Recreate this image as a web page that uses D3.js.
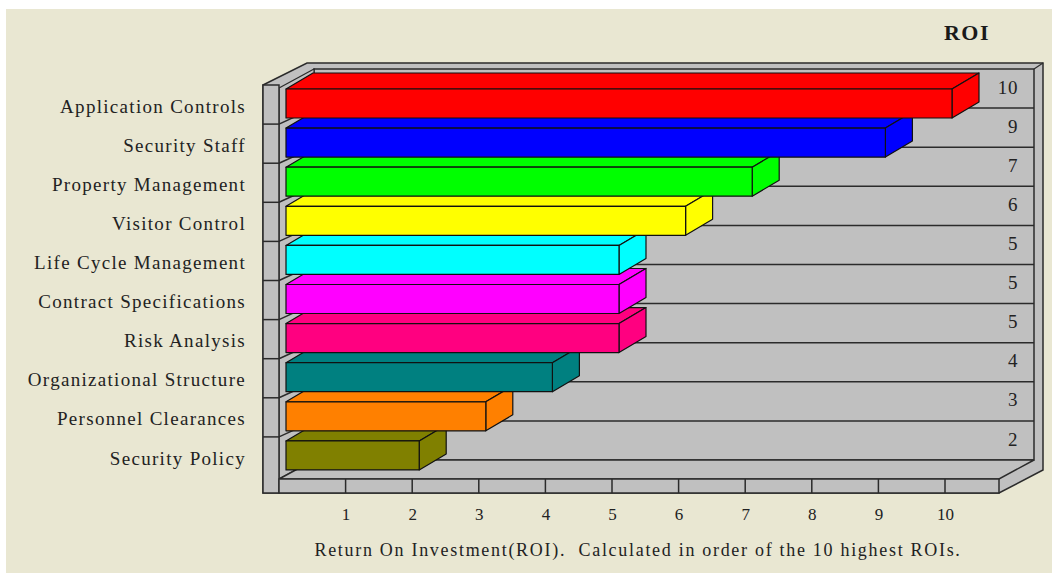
<!DOCTYPE html>
<html>
<head>
<meta charset="utf-8">
<script src="https://cdn.jsdelivr.net/npm/d3@7"></script>
<style>
  html, body { margin: 0; padding: 0; background: #ffffff; }
  svg { display: block; }
  text { font-family: "Liberation Serif", "Times New Roman", serif; fill: #222222; }
</style>
</head>
<body>
<svg id="chart" width="1052" height="576"></svg>
<script>
// Categories, top to bottom, with their return-on-investment scores
const categories = [
  "Application Controls",
  "Security Staff",
  "Property Management",
  "Visitor Control",
  "Life Cycle Management",
  "Contract Specifications",
  "Risk Analysis",
  "Organizational Structure",
  "Personnel Clearances",
  "Security Policy"
];
const roi = [10, 9, 7, 6, 5, 5, 5, 4, 3, 2];
const barColors = [
  "#ff0000", "#0000ff", "#00ff00", "#ffff00", "#00ffff",
  "#ff00ff", "#ff0080", "#008080", "#ff8000", "#808000"
];
const tickValues = [1, 2, 3, 4, 5, 6, 7, 8, 9, 10];
const titleText = "ROI";
const captionText = "Return On Investment(ROI).  Calculated in order of the 10 highest ROIs.";

const svg = d3.select("#chart");
const WALL = "#c0c0c0";
const EDGE = "#2b2b2b";

// Layout of the 3-D box
const frontLeft = 279, frontRight = 999, frontTop = 88, frontBottom = 479;
const wallDx = 35, wallDy = -19;     // depth offset of the walls
const barDx = 27, barDy = -16;       // depth offset of each bar

const x = d3.scaleLinear().domain([0, 10]).range([286, 952]);
const xFloor = d3.scaleLinear().domain([0, 10]).range([279, 945]);
const y = d3.scaleBand().domain(categories).range([frontTop, frontBottom]).padding(0);
const barH = 29;

// Page background
svg.append("rect").attr("x", 6).attr("y", 9).attr("width", 1046).attr("height", 564)
  .attr("fill", "#e9e7d2");

// Outer shell of the box
svg.append("polygon")
  .attr("points", [[263, 85], [307, 63], [1043, 63], [1043, 470], [frontRight, 493], [263, 493]].join(" "))
  .attr("fill", WALL).attr("stroke", EDGE).attr("stroke-width", 1.5);

// Back wall
const backL = frontLeft + wallDx, backT = frontTop + wallDy;
const backR = frontRight + wallDx, backB = frontBottom + wallDy;
svg.append("rect").attr("x", backL).attr("y", backT)
  .attr("width", backR - backL).attr("height", backB - backT)
  .attr("fill", WALL).attr("stroke", EDGE).attr("stroke-width", 1.5);

// Inner face of the left wall
svg.append("polygon")
  .attr("points", [[frontLeft, frontTop], [backL, backT], [backL, backB], [frontLeft, frontBottom]].join(" "))
  .attr("fill", WALL).attr("stroke", EDGE).attr("stroke-width", 1.2);

// Floor
svg.append("polygon")
  .attr("points", [[frontLeft, frontBottom], [backL, backB], [backR, backB], [frontRight, frontBottom]].join(" "))
  .attr("fill", WALL).attr("stroke", EDGE).attr("stroke-width", 1.5);

// Rim lines joining the outer corners
svg.append("line").attr("x1", backR).attr("y1", backT).attr("x2", 1043).attr("y2", 63)
  .attr("stroke", EDGE).attr("stroke-width", 1.2);
svg.append("line").attr("x1", 263).attr("y1", 85).attr("x2", frontLeft).attr("y2", frontTop)
  .attr("stroke", EDGE).attr("stroke-width", 1.2);

// Category gridlines across the left wall and back wall
const gridG = svg.append("g");
categories.slice(1).forEach(c => {
  const t = y(c);
  gridG.append("polyline")
    .attr("points", [[frontLeft, t - 3], [backL, t + wallDy], [backR, t + wallDy]].join(" "))
    .attr("fill", "none").attr("stroke", EDGE).attr("stroke-width", 1.5);
});

// Value labels on the back wall
svg.append("g").selectAll("text").data(categories).join("text")
  .attr("x", 1018).attr("y", c => y(c) - 1).attr("dy", "0.35em")
  .attr("text-anchor", "end")
  .style("font-size", "19px").style("letter-spacing", "0.6px")
  .text((c, i) => roi[i]);

// Front face of the left wall
svg.append("rect").attr("x", 263).attr("y", 85).attr("width", frontLeft - 263).attr("height", 493 - 85)
  .attr("fill", WALL).attr("stroke", EDGE).attr("stroke-width", 1.5);
svg.append("g").selectAll("line").data(categories.slice(1)).join("line")
  .attr("x1", 263).attr("x2", frontLeft)
  .attr("y1", c => y(c) - 3).attr("y2", c => y(c) - 3)
  .attr("stroke", EDGE).attr("stroke-width", 1.5);

// Front face of the floor with tick marks
svg.append("rect").attr("x", frontLeft).attr("y", frontBottom)
  .attr("width", frontRight - frontLeft).attr("height", 493 - frontBottom)
  .attr("fill", WALL).attr("stroke", EDGE).attr("stroke-width", 1.5);
svg.append("g").selectAll("line").data(tickValues).join("line")
  .attr("x1", d => xFloor(d)).attr("x2", d => xFloor(d))
  .attr("y1", frontBottom).attr("y2", 493)
  .attr("stroke", EDGE).attr("stroke-width", 1.5);

// 3-D bars, lower ones first so upper bars sit in front of their top faces
const order = d3.range(categories.length).reverse();
const barsG = svg.append("g");
order.forEach(i => {
  const c = categories[i];
  const x0 = x(0), x1 = x(roi[i]);
  const yt = y(c) + 1, yb = yt + barH;
  const g = barsG.append("g")
    .attr("fill", barColors[i]).attr("stroke", "#111").attr("stroke-width", 1.2)
    .attr("stroke-linejoin", "round");
  // top face
  g.append("polygon").attr("points",
    [[x0, yt], [x0 + barDx, yt + barDy], [x1 + barDx, yt + barDy], [x1, yt]].join(" "));
  // right face
  g.append("polygon").attr("points",
    [[x1, yt], [x1 + barDx, yt + barDy], [x1 + barDx, yb + barDy], [x1, yb]].join(" "));
  // front face
  g.append("rect").attr("x", x0).attr("y", yt).attr("width", x1 - x0).attr("height", barH);
});

// Category labels
svg.append("g").selectAll("text").data(categories).join("text")
  .attr("x", 246).attr("y", c => y(c) + 18).attr("dy", "0.35em")
  .attr("text-anchor", "end")
  .style("font-size", "19px").style("letter-spacing", "1.3px")
  .text(c => c);

// Value axis labels
const axis = d3.axisBottom(xFloor).tickValues(tickValues).tickSize(0).tickPadding(0)
  .tickFormat(d3.format("d"));
const axisG = svg.append("g").attr("transform", "translate(0,508)").call(axis);
axisG.select(".domain").remove();
axisG.selectAll("text")
  .attr("font-family", null).attr("font-size", null)
  .style("font-family", "\"Liberation Serif\", serif")
  .style("font-size", "17px").style("fill", "#222222");

// Axis caption
svg.append("text").attr("x", 638).attr("y", 550).attr("dy", "0.35em")
  .attr("text-anchor", "middle")
  .style("font-size", "18px").style("letter-spacing", "1.7px").style("white-space", "pre")
  .text(captionText);

// Chart title
svg.append("text").attr("x", 967).attr("y", 32).attr("dy", "0.35em")
  .attr("text-anchor", "middle")
  .style("font-size", "22px").style("font-weight", "bold").style("letter-spacing", "1.5px")
  .style("fill", "#1a1a1a")
  .text(titleText);
</script>
</body>
</html>
